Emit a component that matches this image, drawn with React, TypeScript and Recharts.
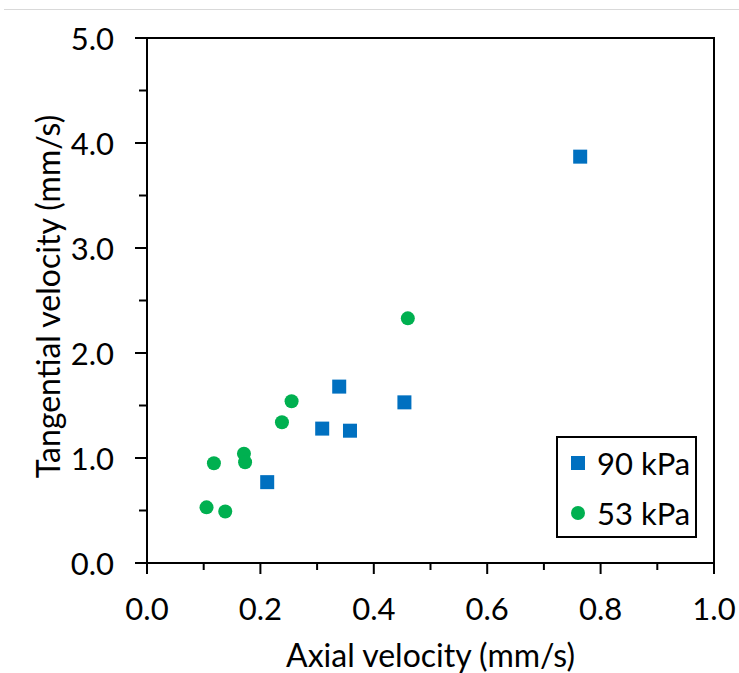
import {
  ScatterChart,
  Scatter,
  XAxis,
  YAxis,
  ReferenceArea,
  Legend,
} from "recharts";

const seriesNames = ["90 kPa", "53 kPa"];
const seriesColors = ["#0070C0", "#00B050"];

const axial90 = [0.212, 0.309, 0.339, 0.358, 0.454, 0.764];
const tangential90 = [0.77, 1.28, 1.68, 1.26, 1.53, 3.87];

const axial53 = [0.105, 0.118, 0.138, 0.171, 0.173, 0.238, 0.255, 0.46];
const tangential53 = [0.53, 0.95, 0.49, 1.04, 0.96, 1.34, 1.54, 2.33];

const xTicks = [0, 0.1, 0.2, 0.3, 0.4, 0.5, 0.6, 0.7, 0.8, 0.9, 1.0];
const yTicks = [0, 0.5, 1, 1.5, 2, 2.5, 3, 3.5, 4, 4.5, 5];

const xTitle = "Axial velocity (mm/s)";
const yTitle = "Tangential velocity (mm/s)";

const data90 = axial90.map((x, i) => ({ x, y: tangential90[i] }));
const data53 = axial53.map((x, i) => ({ x, y: tangential53[i] }));

const FONT = "Lato, 'Open Sans', sans-serif";

const XTick = (props: any) => {
  const { x, y, payload } = props;
  const v = payload.value;
  const major = Math.round(v * 10) % 2 === 0;
  return (
    <g>
      <line x1={x} y1={y} x2={x} y2={y + (major ? 11 : 7)} stroke="#000" strokeWidth={2} />
      {major && (
        <text x={x} y={y + 45} textAnchor="middle" dominantBaseline="central" fontSize={31} fontFamily={FONT} fill="#000">
          {v.toFixed(1)}
        </text>
      )}
    </g>
  );
};

const YTick = (props: any) => {
  const { x, y, payload } = props;
  const v = payload.value;
  const major = Math.abs(v - Math.round(v)) < 1e-6;
  return (
    <g>
      <line x1={x - (major ? 12 : 8)} y1={y} x2={x} y2={y} stroke="#000" strokeWidth={2} />
      {major && (
        <text x={x - 33} y={y} textAnchor="end" dominantBaseline="central" fontSize={31} fontFamily={FONT} fill="#000">
          {v.toFixed(1)}
        </text>
      )}
    </g>
  );
};

const Square = (props: any) => {
  const { cx, cy } = props;
  return <rect x={cx - 7} y={cy - 7} width={14} height={14} fill={seriesColors[0]} />;
};

const Dot = (props: any) => {
  const { cx, cy } = props;
  return <circle cx={cx} cy={cy} r={7} fill={seriesColors[1]} />;
};

const LegendBox = () => (
  <div
    style={{
      width: 141,
      height: 102,
      boxSizing: "border-box",
      border: "2px solid #000",
      background: "#fff",
      position: "relative",
      fontFamily: FONT,
      fontSize: 31,
      color: "#000",
    }}
  >
    {seriesNames.map((name, i) => (
      <div
        key={name}
        style={{
          position: "absolute",
          left: 12,
          top: 7 + i * 50,
          height: 36,
          display: "flex",
          alignItems: "center",
          whiteSpace: "nowrap",
        }}
      >
        <svg width={16} height={16} style={{ marginRight: 11 }}>
          {i === 0 ? (
            <rect x={1} y={1} width={14} height={14} fill={seriesColors[0]} />
          ) : (
            <circle cx={8} cy={8} r={7} fill={seriesColors[1]} />
          )}
        </svg>
        <span>{name}</span>
      </div>
    ))}
  </div>
);

export default function App() {
  return (
    <div style={{ position: "absolute", left: 0, top: 0, width: 739, height: 673, background: "#fff" }}>
      <div style={{ position: "absolute", left: 4, top: 9, width: 735, height: 1, background: "#d9d9d9" }} />
      <ScatterChart width={739} height={673} margin={{ top: 38, right: 25, bottom: 0, left: 0 }}>
        <XAxis
          type="number"
          dataKey="x"
          domain={[0, 1]}
          ticks={xTicks}
          interval={0}
          height={110}
          tickSize={0}
          tickMargin={0}
          tickLine={false}
          tick={<XTick />}
          axisLine={{ stroke: "#000", strokeWidth: 2 }}
          label={{
            content: (p: any) => {
              const vb = p.viewBox;
              return (
                <text x={vb.x + vb.width / 2} y={vb.y + 91} textAnchor="middle" dominantBaseline="central" fontSize={32} fontFamily={FONT} fill="#000">
                  {xTitle}
                </text>
              );
            },
          }}
        />
        <YAxis
          type="number"
          dataKey="y"
          domain={[0, 5]}
          ticks={yTicks}
          interval={0}
          width={147}
          tickSize={0}
          tickMargin={0}
          tickLine={false}
          tick={<YTick />}
          axisLine={{ stroke: "#000", strokeWidth: 2 }}
          label={{
            content: (p: any) => {
              const vb = p.viewBox;
              const cx = vb.x + 47;
              const cy = vb.y + vb.height / 2 - 4;
              return (
                <text x={cx} y={cy} transform={`rotate(-90 ${cx} ${cy})`} textAnchor="middle" dominantBaseline="central" fontSize={32} fontFamily={FONT} fill="#000">
                  {yTitle}
                </text>
              );
            },
          }}
        />
        <ReferenceArea x1={0} x2={1} y1={0} y2={5} fill="none" stroke="#000" strokeWidth={2} />
        <Scatter name={seriesNames[0]} data={data90} shape={<Square />} isAnimationActive={false} />
        <Scatter name={seriesNames[1]} data={data53} shape={<Dot />} isAnimationActive={false} />
        <Legend
          layout="vertical"
          align="center"
          verticalAlign="middle"
          content={<LegendBox />}
          wrapperStyle={{ left: 556, top: 436, width: 141, height: 102 }}
        />
      </ScatterChart>
    </div>
  );
}
